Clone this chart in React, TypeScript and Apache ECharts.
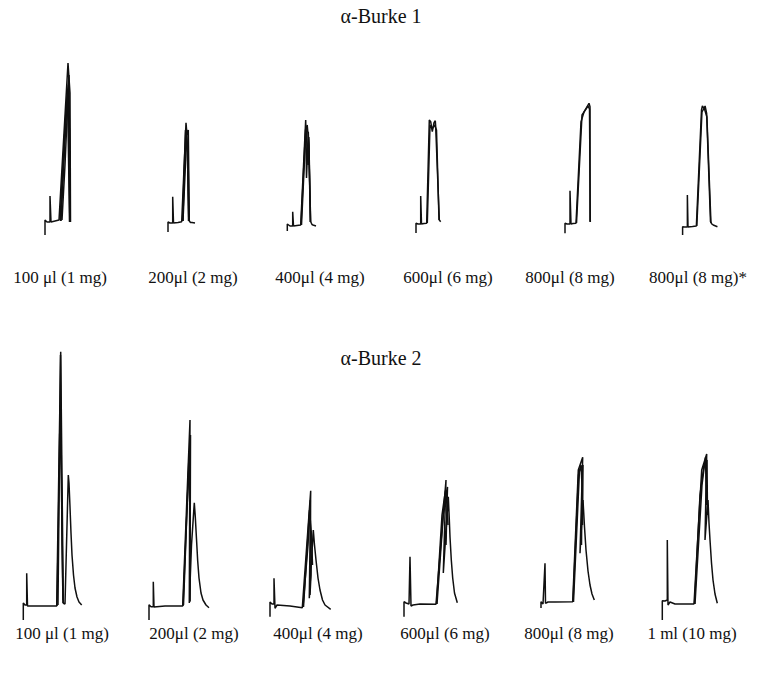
import React, { useEffect, useRef } from "react";
import * as echarts from "echarts";

// ---- labels ----
const titleTop = "α-Burke 1";
const titleBottom = "α-Burke 2";
const labelsTop = ["100 μl (1 mg)", "200μl (2 mg)", "400μl (4 mg)", "600μl (6 mg)", "800μl (8 mg)", "800μl (8 mg)*"];
const labelsBottom = ["100 μl (1 mg)", "200μl (2 mg)", "400μl (4 mg)", "600μl (6 mg)", "800μl (8 mg)", "1 ml (10 mg)"];

// ---- traces [time, signal] : α-Burke 1 ----
const b1_100 = [
  [[15, -10], [15, 5], [17, 3], [20, 3], [20, 29], [21, 3], [25, 4], [29, 5], [38, 162], [40, 132], [40.5, 3]],
  [[30, 5], [36, 115], [39, 150], [40, 3]],
  [[31, 4], [37, 125], [39.5, 95], [40, 3]],
  [[32, 5], [35, 60], [38.5, 140], [39.8, 3]],
  [[30.5, 4], [34, 80], [37.5, 135], [39.5, 3]],
];
const b1_200 = [
  [[13, -7], [13, 3], [15, 2], [17.7, 2], [17.7, 28.3], [18.5, 2], [23, 2.5], [26.7, 3.3], [31, 102.3], [32, 90], [33.3, 95], [34.3, 4], [35.5, 2.5], [37, 2.5], [40, 2]],
  [[27.5, 4], [30.5, 95], [32.5, 80], [33.5, 4]],
  [[28, 4], [31.5, 85], [33, 75], [34, 4]],
  [[27.8, 4], [30, 70], [32, 90], [33.8, 4]],
];
const b1_400 = [
  [[12.3, -6], [12.3, 1], [15, -1], [17.7, -1], [17.7, 13.3], [18.5, -1], [22, -0.5], [25.7, 0], [30.7, 105], [31.5, 47], [33.3, 93.3], [35.7, 3.3], [37, 0.5], [38, 0], [41, -1]],
  [[26, 0], [30.5, 95], [32.2, 100], [34, 80], [35.5, 3]],
  [[26.5, 0], [31, 98], [33, 60], [33.8, 88], [35.3, 3]],
];
const b1_600 = [
  [[16, -8], [16, 1.7], [18, 1], [20.7, 1], [20.7, 29], [21.5, 1], [24, 1.5], [26.7, 1.7], [29.3, 105], [30.7, 103.3], [32.3, 93.3], [34, 102.3], [35.3, 104.3], [35.7, 98.3], [39.3, 5], [40.7, 3.3]],
  [[27.3, 2], [30, 100], [32, 96], [34.5, 100], [36.5, 95], [39, 5]],
];
const b1_800 = [
  [[20, -8.3], [20, 1.7], [22, 1], [25, 1], [25, 34.3], [26, 1], [28, 1.5], [31, 1.7], [36, 103.3], [39, 113], [44, 121.7], [45, 118.3], [45, 3.3]],
  [[31.5, 2], [37, 110], [43, 119], [44.5, 116], [45.3, 3]],
];
const b1_800b = [
  [[14, -10], [14, -1.7], [16, -2], [19.3, -2], [19.3, 30], [20, -2], [25, -1.5], [29.3, -1], [35, 115], [36, 119], [37.7, 116.7], [39, 119], [40.7, 111.7], [45, 3.3], [46.5, 1], [48, 0], [52.7, -1.7]],
  [[29.8, -1], [35.5, 113], [38, 117], [41, 108], [45.5, 2]],
];

// ---- traces [time, signal] : α-Burke 2 ----
const b2_100 = [
  [[13.3, -15], [13.3, 2], [15, 0], [16.7, 0], [16.7, 31.7], [17.5, -1], [30, -1], [46.7, -1], [50.7, 253.3], [53.3, 1.7], [55, 1], [56.5, 60], [58.3, 130], [59, 122], [60, 98], [61, 72], [62, 50], [63.5, 30], [65, 17], [67, 8], [69, 3], [71.7, 0]],
  [[47, -1], [49.5, 150], [50.5, 250], [52, 60], [53, 2]],
  [[48, 0], [50, 200], [51.5, 120], [53, 5]],
];
const b2_200 = [
  [[14, -15], [14, 0.3], [16, -1.7], [18.3, -1.7], [18.3, 23.3], [19, -2], [30, -1], [47.7, -1], [55, 185], [54.3, 2], [56.5, 60], [59.3, 102.3], [60.3, 88], [61.5, 66], [62.7, 44], [64, 27], [66, 12], [68, 5], [71, 0], [74, -2.7]],
  [[48, -1], [53, 120], [55.5, 170], [55, 4]],
  [[48.5, 0], [54, 150], [55.3, 60], [54.8, 3]],
];
const b2_400 = [
  [[15, -11.7], [15, 3], [17, 1], [19, 1], [19, 26.7], [20, -3.3], [22, 0], [35, -1], [47.3, -2.7], [55.7, 114.3], [54.3, 6.7], [58.3, 75], [59.5, 60], [61, 45], [63, 27], [65, 15], [67.5, 5], [70, 0], [75.7, -4.3]],
  [[48, -2], [53, 60], [55.3, 105], [56, 30], [55, 10]],
  [[48.5, -2], [54.5, 95], [56.5, 70], [57.5, 40]],
];
const b2_600 = [
  [[14, -11.7], [14, 3.3], [16, 2], [19, 1], [20, 48.3], [21, -1], [23, 0], [30, 1], [46, 0.7], [56, 125], [53.3, 32], [58.3, 108.3], [59.2, 88], [60, 68], [61.3, 45], [62.7, 27], [64.5, 12], [67.3, 2.3]],
  [[46.5, 1], [52, 90], [55.5, 115], [57, 100], [58, 80]],
  [[47, 1], [54, 100], [57.5, 118], [56, 60]],
];
const b2_800 = [
  [[16, -3], [16, 3.3], [18, 1], [20, 41.7], [20.5, 1.7], [23, 3], [30, 3], [47.7, 3.3], [53.3, 135], [57.7, 147.7], [55, 51.7], [58, 105], [59.5, 78], [61, 55], [63, 34], [65, 20], [67, 11], [69.3, 5]],
  [[48, 3], [53.5, 130], [56, 140], [57, 120], [56.5, 60]],
  [[48.5, 3], [54.5, 135], [58, 140], [57.5, 80]],
];
const b2_1000 = [
  [[12.3, -15], [12.3, 4.3], [15, 4], [17.3, 5], [17.3, 65], [18, 0], [20, 3], [25, 1], [44, 1], [51.7, 135], [56.7, 151], [55, 65], [58, 105], [59, 82], [60, 65], [61.5, 42], [63, 25], [65, 11], [67.3, 1.7]],
  [[44.5, 1], [50, 110], [54, 140], [57, 145], [57.5, 90]],
  [[45, 1], [52, 120], [55.5, 148], [56.5, 100]],
];

const panelsTop = [b1_100, b1_200, b1_400, b1_600, b1_800, b1_800b];
const panelsBottom = [b2_100, b2_200, b2_400, b2_600, b2_800, b2_1000];

// layout (pixels)
const topLefts = [30, 155, 275, 400, 545, 670];
const bottomLefts = [10, 135, 255, 390, 525, 650];
const topLabelX = [60, 193, 320, 448, 570, 698];
const bottomLabelX = [62, 194, 318, 445, 569, 692];

export default function App() {
  const ref = useRef<HTMLDivElement>(null);
  useEffect(() => {
    if (!ref.current) return;
    const chart = echarts.init(ref.current, null, { renderer: "svg" });
    const grids: any[] = [];
    const xAxes: any[] = [];
    const yAxes: any[] = [];
    const series: any[] = [];
    const addPanel = (traces: number[][][], left: number, top: number, height: number, ymin: number, ymax: number) => {
      const gi = grids.length;
      grids.push({ left, top, width: 100, height });
      xAxes.push({ type: "value", gridIndex: gi, min: 0, max: 100, show: false });
      yAxes.push({ type: "value", gridIndex: gi, min: ymin, max: ymax, show: false });
      traces.forEach((t) => {
        series.push({
          type: "line",
          xAxisIndex: gi,
          yAxisIndex: gi,
          data: t,
          showSymbol: false,
          symbol: "none",
          lineStyle: { color: "#101010", width: 1.5 },
          silent: true,
        });
      });
    };
    panelsTop.forEach((p, i) => addPanel(p, topLefts[i], 40, 200, -15, 185));
    panelsBottom.forEach((p, i) => addPanel(p, bottomLefts[i], 330, 300, -25, 275));

    const txt = (text: string, x: number, y: number, size: number) => ({
      type: "text",
      x,
      y,
      style: {
        text,
        fill: "#111",
        font: `${size}px "Liberation Serif", "DejaVu Serif", serif`,
        textAlign: "center",
        textVerticalAlign: "middle",
      },
    });
    const graphics: any[] = [txt(titleTop, 381, 16, 20), txt(titleBottom, 381, 358, 20)];
    labelsTop.forEach((l, i) => graphics.push(txt(l, topLabelX[i], 277, 17)));
    labelsBottom.forEach((l, i) => graphics.push(txt(l, bottomLabelX[i], 633, 17)));

    chart.setOption({
      animation: false,
      backgroundColor: "#fff",
      grid: grids,
      xAxis: xAxes,
      yAxis: yAxes,
      series,
      graphic: graphics,
    });
    return () => chart.dispose();
  }, []);
  return <div ref={ref} style={{ position: "fixed", left: 0, top: 0, width: 760, height: 673 }} />;
}
